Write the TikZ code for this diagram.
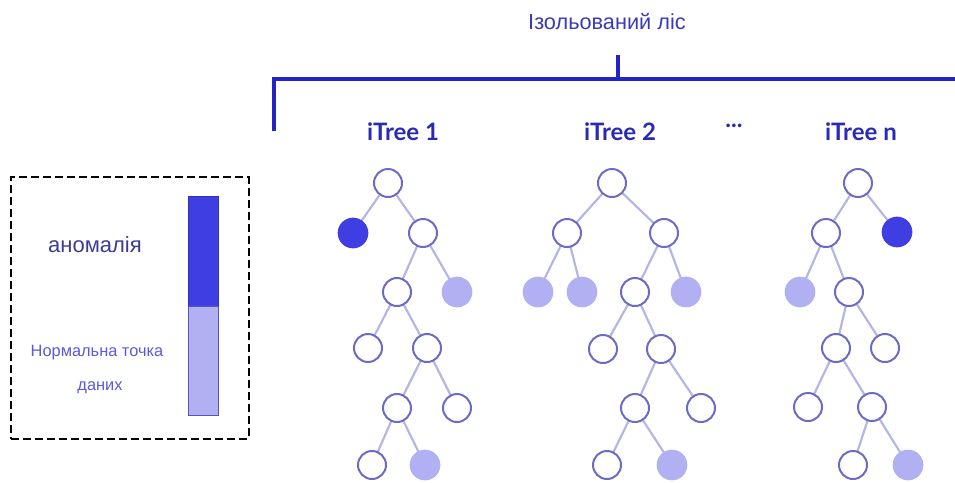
\documentclass[tikz,border=0pt]{standalone}
\usepackage{fontspec}
\setmainfont{Liberation Sans}
\newfontfamily\latofont{Lato}
\usetikzlibrary{backgrounds}
\definecolor{brk}{HTML}{2323C8}
\definecolor{ttl}{HTML}{3B3BB8}
\definecolor{lbl}{HTML}{2A2AB4}
\definecolor{nodeline}{HTML}{6B6BC4}
\definecolor{edgecol}{HTML}{B4B4E6}
\definecolor{darkfill}{HTML}{3E3EE2}
\definecolor{lightfill}{HTML}{B0B0F2}
\definecolor{anom}{HTML}{3C3C96}
\definecolor{norm}{HTML}{5A5AE0}
\tikzset{
  wn/.style={circle,draw=nodeline,line width=1.5pt,fill=white,minimum size=21pt,inner sep=0pt},
  dn/.style={circle,draw=darkfill,line width=1pt,fill=darkfill,minimum size=22pt,inner sep=0pt},
  ln/.style={circle,draw=lightfill,line width=1pt,fill=lightfill,minimum size=22pt,inner sep=0pt},
  ed/.style={draw=edgecol,line width=1.6pt},
  treelbl/.style={font=\latofont\bfseries\fontsize{18}{20}\selectfont,text=lbl,inner sep=0pt},
  brkline/.style={draw=brk,line width=3pt}
}
\begin{document}
\begin{tikzpicture}[x=0.75pt,y=-0.75pt]
\useasboundingbox (0,0) rectangle (955,482);
% title and bracket
\node[text=ttl,font=\fontsize{16.3}{18}\selectfont,inner sep=0pt] (title) at (607,22) {Ізольований ліс};
\coordinate (tickTop) at (618,55);
\coordinate (tickBot) at (618,79);
\coordinate (brL) at (274,79);
\coordinate (brLb) at (274,131);
\coordinate (brR) at (955,79);
\draw[brkline] (tickTop) -- (tickBot);
\draw[brkline,line join=miter] (brLb) -- (brL) -- (brR);
% tree labels
\node[treelbl] (lab1) at (403,132) {iTree 1};
\node[treelbl] (lab2) at (620,132) {iTree 2};
\node[treelbl] (labdots) at (734,126) {...};
\node[treelbl] (labn) at (861,132) {iTree n};
% legend
\node[draw=black,dashed,line width=1.5pt,dash pattern=on 6pt off 3pt,minimum width=178pt,minimum height=196pt,inner sep=0pt] (legend) at (130,308) {};
\node[draw=darkfill!80!black,line width=0.8pt,fill=darkfill,minimum width=23pt,minimum height=82.5pt,inner sep=0pt,anchor=north] (barTop) at (203.5,196) {};
\node[draw=darkfill!60!lightfill!80!black,line width=0.8pt,fill=lightfill,minimum width=23pt,minimum height=81.75pt,inner sep=0pt,anchor=north] (barBot) at (203.5,306) {};
\node[text=anom,font=\fontsize{16.5}{18}\selectfont,inner sep=0pt] (anomtxt) at (95,245) {аномалія};
\node[text=norm,font=\fontsize{12.3}{14}\selectfont,inner sep=0pt] (normtxt1) at (97,353) {Нормальна точка};
\node[text=norm,font=\fontsize{12.3}{14}\selectfont,inner sep=0pt] (normtxt2) at (100,388) {даних};
% tree 1
\node[wn] (a1) at (388,183) {};
\node[dn] (a2) at (353,233) {};
\node[wn] (a3) at (423,233) {};
\node[wn] (a4) at (397,292) {};
\node[ln] (a5) at (457,292) {};
\node[wn] (a6) at (368,348) {};
\node[wn] (a7) at (427,348) {};
\node[wn] (a8) at (397,408) {};
\node[wn] (a9) at (457,408) {};
\node[wn] (a10) at (372,465) {};
\node[ln] (a11) at (425,465) {};
% tree 2
\node[wn] (b1) at (612,183) {};
\node[wn] (b2) at (567,233) {};
\node[wn] (b3) at (664,233) {};
\node[ln] (b4) at (538,292) {};
\node[ln] (b5) at (582,292) {};
\node[wn] (b6) at (635,292) {};
\node[ln] (b7) at (686,292) {};
\node[wn] (b8) at (603,349) {};
\node[wn] (b9) at (661,349) {};
\node[wn] (b10) at (635,408) {};
\node[wn] (b11) at (701,408) {};
\node[wn] (b12) at (607,465) {};
\node[ln] (b13) at (672,465) {};
% tree n
\node[wn] (c1) at (858,183) {};
\node[wn] (c2) at (826,233) {};
\node[dn] (c3) at (897,232) {};
\node[ln] (c4) at (800,292) {};
\node[wn] (c5) at (849,292) {};
\node[wn] (c6) at (836,348) {};
\node[wn] (c7) at (885,348) {};
\node[wn] (c8) at (808,407) {};
\node[wn] (c9) at (872,407) {};
\node[wn] (c10) at (853,465) {};
\node[ln] (c11) at (908,465) {};
\begin{scope}[on background layer]
\fill[white] (0,0) rectangle (955,482);
\draw[ed] (a1.center) -- (a2.center);
\draw[ed] (a1.center) -- (a3.center);
\draw[ed] (a3.center) -- (a4.center);
\draw[ed] (a3.center) -- (a5.center);
\draw[ed] (a4.center) -- (a6.center);
\draw[ed] (a4.center) -- (a7.center);
\draw[ed] (a7.center) -- (a8.center);
\draw[ed] (a7.center) -- (a9.center);
\draw[ed] (a8.center) -- (a10.center);
\draw[ed] (a8.center) -- (a11.center);
\draw[ed] (b1.center) -- (b2.center);
\draw[ed] (b1.center) -- (b3.center);
\draw[ed] (b2.center) -- (b4.center);
\draw[ed] (b2.center) -- (b5.center);
\draw[ed] (b3.center) -- (b6.center);
\draw[ed] (b3.center) -- (b7.center);
\draw[ed] (b6.center) -- (b8.center);
\draw[ed] (b6.center) -- (b9.center);
\draw[ed] (b9.center) -- (b10.center);
\draw[ed] (b9.center) -- (b11.center);
\draw[ed] (b10.center) -- (b12.center);
\draw[ed] (b10.center) -- (b13.center);
\draw[ed] (c1.center) -- (c2.center);
\draw[ed] (c1.center) -- (c3.center);
\draw[ed] (c2.center) -- (c4.center);
\draw[ed] (c2.center) -- (c5.center);
\draw[ed] (c5.center) -- (c6.center);
\draw[ed] (c5.center) -- (c7.center);
\draw[ed] (c6.center) -- (c8.center);
\draw[ed] (c6.center) -- (c9.center);
\draw[ed] (c9.center) -- (c10.center);
\draw[ed] (c9.center) -- (c11.center);
\end{scope}
\end{tikzpicture}
\end{document}
